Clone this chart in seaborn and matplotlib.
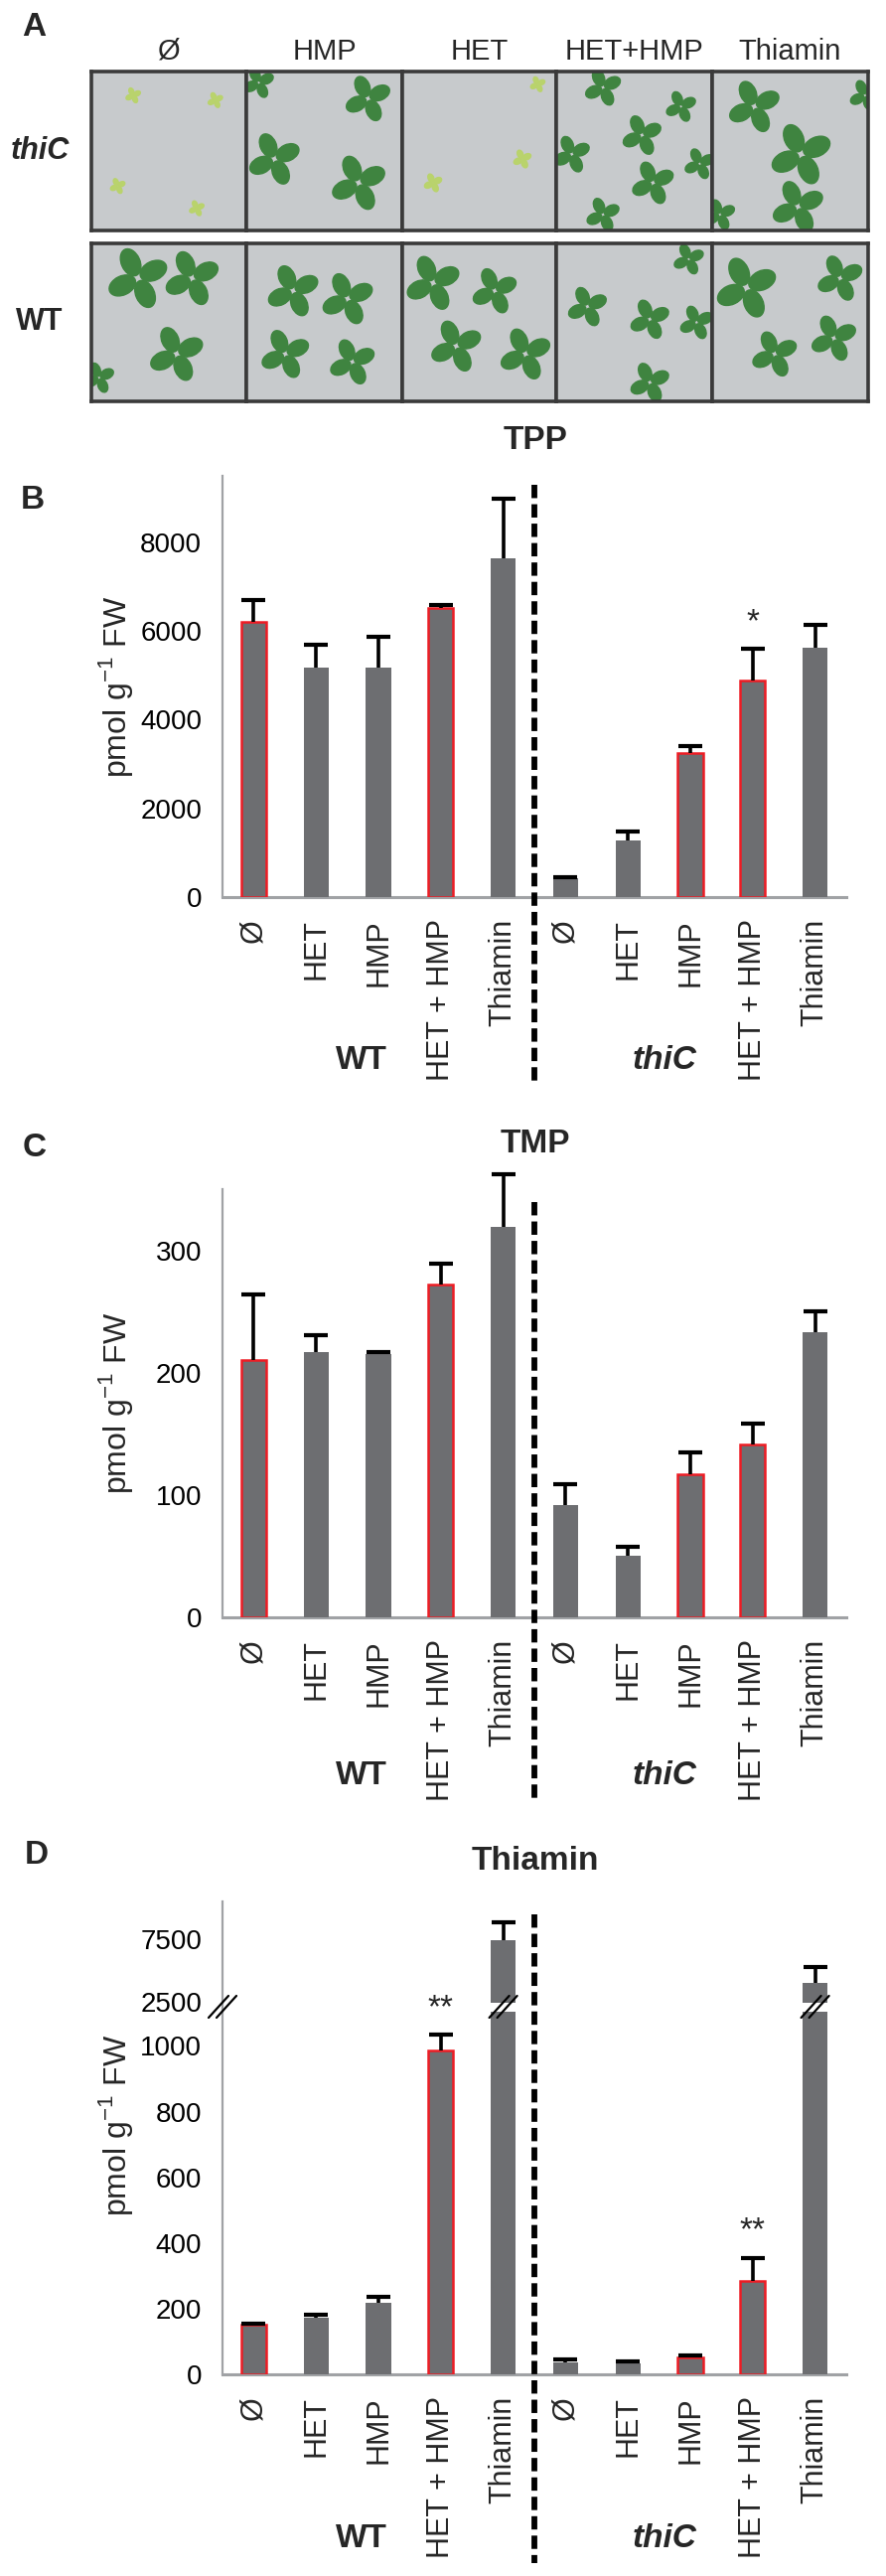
import numpy as np
import pandas as pd
import matplotlib
matplotlib.use("Agg")
import matplotlib.pyplot as plt
import seaborn as sns
from matplotlib import transforms
from matplotlib.lines import Line2D
from matplotlib.patches import Ellipse

# ---------------- data ----------------
genotypes = ["WT", "thiC"]
conditions = ["Ø", "HET", "HMP", "HET + HMP", "Thiamin"]
keys = [g + " " + c for g in genotypes for c in conditions]
# bars drawn with a red outline
highlight = [True, False, False, True, False, False, False, True, True, False]

tpp_mean = [6200, 5180, 5180, 6520, 7650, 420, 1280, 3240, 4890, 5620]
tpp_err = [500, 520, 700, 70, 1340, 20, 200, 160, 710, 520]
tpp_stars = ["", "", "", "", "", "", "", "", "*", ""]

tmp_mean = [210, 217, 215, 272, 319, 92, 50, 117, 141, 233]
tmp_err = [54, 14, 2, 17, 43, 17, 8, 18, 17, 17]

thia_mean = [150, 172, 217, 987, 7420, 36, 32, 50, 283, 3990]
thia_err = [5, 8, 20, 48, 1390, 9, 8, 8, 72, 1260]
thia_stars = ["", "", "", "**", "", "", "", "", "**", ""]

# panel A (photo stand-in): treatment columns, genotype rows,
# seedlings per tile as (x, y, size) in tile fractions
a_columns = ["Ø", "HMP", "HET", "HET+HMP", "Thiamin"]
a_rows = ["thiC", "WT"]
a_seedlings = {
    "thiC": [
        [(0.27, 0.85, 0.05), (0.80, 0.82, 0.05), (0.17, 0.28, 0.05), (0.68, 0.14, 0.05)],
        [(0.08, 0.93, 0.10), (0.78, 0.83, 0.15), (0.18, 0.45, 0.17), (0.72, 0.30, 0.18)],
        [(0.88, 0.92, 0.05), (0.78, 0.45, 0.06), (0.20, 0.30, 0.06)],
        [(0.30, 0.90, 0.12), (0.80, 0.78, 0.10), (0.55, 0.60, 0.13), (0.10, 0.48, 0.12),
         (0.62, 0.30, 0.14), (0.92, 0.42, 0.10), (0.30, 0.10, 0.11)],
        [(0.27, 0.78, 0.17), (0.57, 0.48, 0.20), (0.55, 0.15, 0.17), (0.05, 0.10, 0.10),
         (0.98, 0.85, 0.10)],
    ],
    "WT": [
        [(0.30, 0.78, 0.20), (0.65, 0.78, 0.18), (0.55, 0.30, 0.18), (0.05, 0.15, 0.10)],
        [(0.30, 0.70, 0.17), (0.65, 0.65, 0.17), (0.25, 0.30, 0.16), (0.68, 0.25, 0.15)],
        [(0.20, 0.75, 0.18), (0.60, 0.70, 0.15), (0.35, 0.35, 0.17), (0.80, 0.30, 0.17)],
        [(0.85, 0.90, 0.10), (0.20, 0.60, 0.13), (0.60, 0.52, 0.13), (0.90, 0.50, 0.11),
         (0.60, 0.12, 0.13)],
        [(0.22, 0.72, 0.20), (0.82, 0.78, 0.15), (0.40, 0.30, 0.15), (0.78, 0.40, 0.15)],
    ],
}
pale_tiles = {("thiC", 0), ("thiC", 2)}

# ---------------- style ----------------
sns.set_theme(style="white")
plt.rcParams["font.family"] = ["Liberation Sans", "DejaVu Sans"]
plt.rcParams["mathtext.fontset"] = "custom"
plt.rcParams["mathtext.rm"] = "Liberation Sans"

BAR = "#6d6e71"
RED = "#ed1c24"
GRAY = "#a0a2a5"
W, H = 892, 2593
AX_L, AX_R = 224, 852

fig = plt.figure(figsize=(W / 100, H / 100), dpi=100)
fig.patch.set_facecolor("white")
pix = transforms.Affine2D().scale(1 / W, -1 / H).translate(0, 1) + fig.transFigure


def px_axes(left, top, right, bottom):
    return fig.add_axes([left / W, 1 - bottom / H, (right - left) / W, (bottom - top) / H])


def label(x, y, s, **kw):
    kw.setdefault("ha", "center")
    kw.setdefault("va", "center")
    fig.text(x / W, 1 - y / H, s, **kw)


def seedling(ax, x, y, s, color):
    for k in range(4):
        ang = 25 + 90 * k
        dx, dy = np.cos(np.radians(ang)) * s * 0.55, np.sin(np.radians(ang)) * s * 0.55
        ax.add_patch(Ellipse((x + dx, y + dy), s * 0.9, s * 0.6, angle=ang,
                             color=color, zorder=2))


# ---------------- panel A ----------------
col_edges = [92, 248, 405, 560, 717, 874]
row_edges = [(72, 232), (245, 404)]
label(34, 28, "A", fontsize=24, fontweight="bold")
for j, name in enumerate(a_columns):
    label((col_edges[j] + col_edges[j + 1]) / 2, 52, name, fontsize=21)
for r, row in enumerate(a_rows):
    top, bottom = row_edges[r]
    label(40, (top + bottom) / 2, row, fontsize=22, fontweight="bold",
          fontstyle="italic" if row == "thiC" else "normal")
    for j in range(len(a_columns)):
        ax = px_axes(col_edges[j], top, col_edges[j + 1], bottom)
        ax.set_facecolor("#c7cacc")
        ax.set_xlim(0, 1)
        ax.set_ylim(0, 1)
        ax.set_xticks([])
        ax.set_yticks([])
        for sp in ax.spines.values():
            sp.set_color("#3a3a3a")
            sp.set_linewidth(2.6)
        pale = (row, j) in pale_tiles
        for (x, y, s) in a_seedlings[row][j]:
            seedling(ax, x, y, s, "#b9d36c" if pale else "#3f8440")


# ---------------- bar panels ----------------
def bar_panel(ax, means, errs, stars=None, clip=True, xlabels=True):
    df = pd.DataFrame({"key": keys, "value": means})
    sns.barplot(data=df, x="key", y="value", order=keys, color=BAR, saturation=1,
                width=0.4, errorbar=None, ax=ax, linewidth=0, zorder=3)
    for patch, hl in zip(ax.patches, highlight):
        if hl:
            patch.set_edgecolor(RED)
            patch.set_linewidth(1.8)
    x = np.arange(len(keys))
    m, e = np.array(means, float), np.array(errs, float)
    ax.vlines(x, m, m + e, color="black", lw=2.6, zorder=4, clip_on=clip)
    ax.hlines(m + e, x - 0.19, x + 0.19, color="black", lw=3.0, zorder=4, clip_on=clip)
    if stars:
        for i, s in enumerate(stars):
            if s:
                ax.annotate(s, xy=(i, m[i] + e[i]), xytext=(0, 19), textcoords="offset points",
                            ha="center", va="center", fontsize=24)
    ax.set_xlabel("")
    ax.set_ylabel("")
    ax.set_xlim(-0.5, len(keys) - 0.5)
    sns.despine(ax=ax)
    ax.spines["left"].set_color(GRAY)
    ax.spines["left"].set_linewidth(1.6)
    ax.spines["bottom"].set_color(GRAY)
    ax.spines["bottom"].set_linewidth(2.2)
    ax.tick_params(axis="y", direction="in", length=3.6, width=1.5, color=GRAY,
                   labelsize=20, pad=15, labelcolor="black")
    if xlabels:
        ax.set_xticks(x)
        ax.set_xticklabels(conditions * 2, rotation=90, fontsize=22)
        ax.set_xticks(np.arange(-0.5, len(keys), 1), minor=True)
        ax.tick_params(axis="x", which="major", length=0, pad=16)
        ax.tick_params(axis="x", which="minor", length=7, width=1.6, color=GRAY,
                       direction="out")
    else:
        ax.set_xticks([])
        ax.spines["bottom"].set_visible(False)


def divider(ax, y0, y1):
    tr = transforms.blended_transform_factory(ax.transData, fig.transFigure)
    fig.add_artist(Line2D([4.5, 4.5], [1 - y0 / H, 1 - y1 / H], transform=tr,
                          color="black", lw=4.2, linestyle=(0, (2.3, 1.05))))


def groups(ax, y):
    tr = transforms.blended_transform_factory(ax.transData, fig.transFigure)
    ax.text(1.73, 1 - y / H, "WT", transform=tr, ha="center", va="center",
            fontsize=24, fontweight="bold")
    ax.text(6.59, 1 - y / H, "thiC", transform=tr, ha="center", va="center",
            fontsize=24, fontweight="bold", fontstyle="italic")


ylab = r"pmol g$^{\mathregular{-1}}$ FW"

# B: TPP
axb = px_axes(AX_L, 479, AX_R, 903)
bar_panel(axb, tpp_mean, tpp_err, tpp_stars)
axb.set_ylim(0, 9500)
axb.set_yticks(range(0, 8001, 2000))
divider(axb, 488, 1093)
groups(axb, 1068)
label(33, 503, "B", fontsize=24, fontweight="bold")
label(539, 443, "TPP", fontsize=24, fontweight="bold")
label(117, 691, ylab, rotation=90, fontsize=23)

# C: TMP
axc = px_axes(AX_L, 1197, AX_R, 1628)
bar_panel(axc, tmp_mean, tmp_err, clip=False)
axc.set_ylim(0, 350)
axc.set_yticks(range(0, 301, 100))
divider(axc, 1210, 1813)
groups(axc, 1788)
label(35, 1155, "C", fontsize=24, fontweight="bold")
label(539, 1152, "TMP", fontsize=24, fontweight="bold")
label(117, 1412, ylab, rotation=90, fontsize=23)

# D: Thiamin, broken axis
axd_hi = px_axes(AX_L, 1914, AX_R, 2016)
bar_panel(axd_hi, thia_mean, thia_err, xlabels=False)
axd_hi.set_ylim(2445, 10460)
axd_hi.set_yticks([2500, 7500])

axd = px_axes(AX_L, 2025, AX_R, 2390)
bar_panel(axd, thia_mean, thia_err, thia_stars)
axd.set_ylim(0, 1104)
axd.set_yticks(range(0, 1001, 200))
divider(axd, 1927, 2580)
groups(axd, 2555)
label(37, 1868, "D", fontsize=24, fontweight="bold")
label(539, 1873, "Thiamin", fontsize=24, fontweight="bold")
label(117, 2139, ylab, rotation=90, fontsize=23)

# continuous y spine through the break, plus the // marks
fig.add_artist(Line2D([AX_L, AX_L], [2016, 2025], transform=pix, color=GRAY, lw=1.6))
step = (AX_R - AX_L) / len(keys)
for xc in [AX_L, AX_L + 4.5 * step, AX_L + 9.5 * step]:
    for off in (-4, 4):
        fig.add_artist(Line2D([xc + off - 10, xc + off + 10], [2031, 2009], transform=pix,
                              color="black", lw=1.6, zorder=10))

fig.savefig("out.png", dpi=100, facecolor="white")
